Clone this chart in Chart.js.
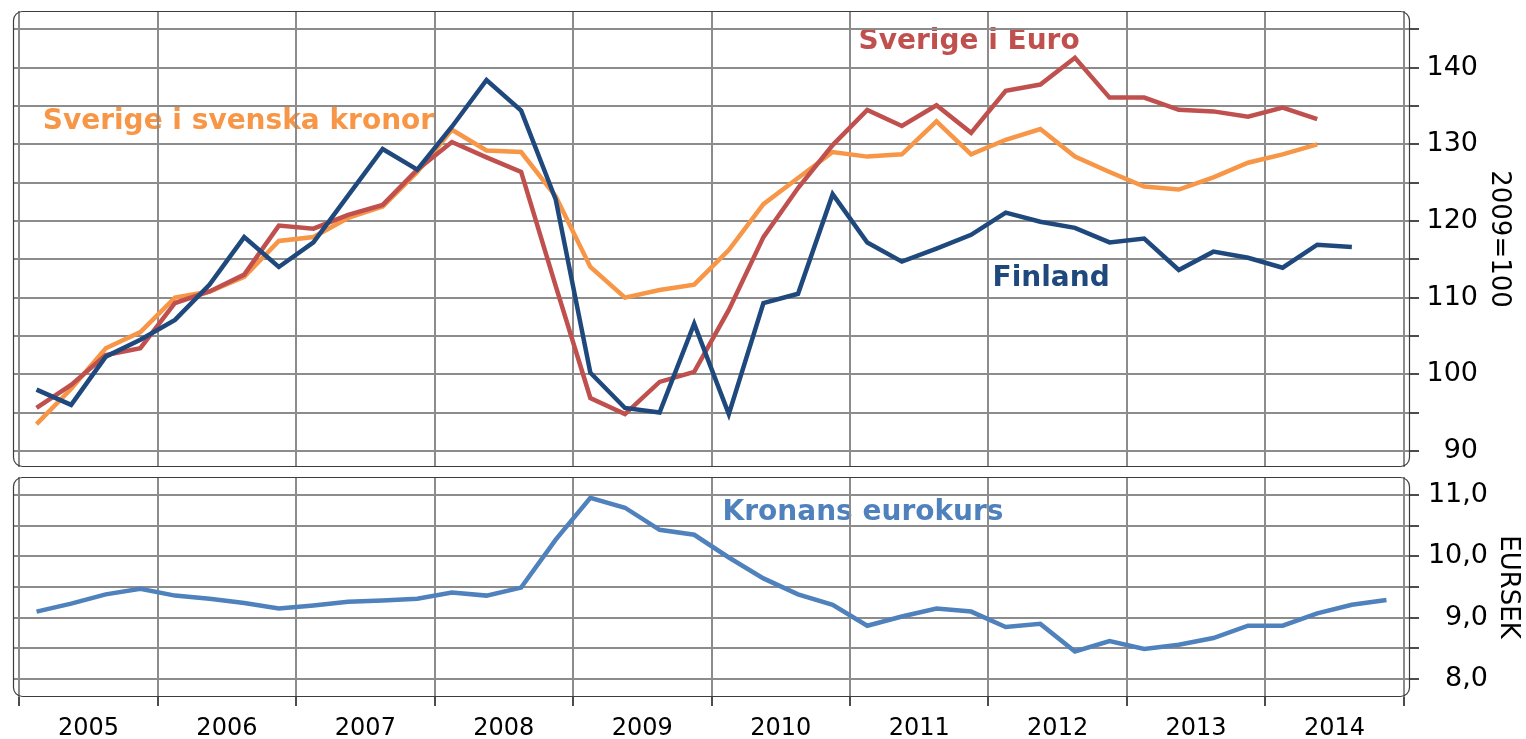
<!DOCTYPE html>
<html><head><meta charset="utf-8">
<script src="https://cdn.jsdelivr.net/npm/chart.js@4"></script>
<style>
html,body{margin:0;padding:0;background:#fff;width:1526px;height:739px;overflow:hidden}
#top{position:absolute;left:0;top:0;width:1526px;height:470px}
#bot{position:absolute;left:0;top:470px;width:1526px;height:269px}
</style></head><body>
<canvas id="top" width="1526" height="470"></canvas>
<canvas id="bot" width="1526" height="269"></canvas>
<script>
// ---- data (quarterly, 2005Q1 ...) ----
const years = ['2005','2006','2007','2008','2009','2010','2011','2012','2013','2014'];
const finland = [98.0, 96.0, 102.3, 104.5, 107.1, 111.7, 117.9, 114.0, 117.2, 123.3, 129.4, 126.7, 132.3, 138.4, 134.4, 122.8, 100.2, 95.6, 95.0, 106.6, 94.8, 109.3, 110.5, 123.5, 117.2, 114.7, 116.4, 118.2, 121.1, 119.9, 119.1, 117.2, 117.7, 113.6, 116.0, 115.2, 113.9, 116.9, 116.6];
const sverigeEuro = [95.6, 98.6, 102.5, 103.4, 109.3, 110.8, 113.0, 119.4, 119.0, 120.8, 122.1, 126.7, 130.3, 128.3, 126.4, 111.5, 96.9, 94.8, 99.0, 100.3, 108.4, 117.9, 124.3, 129.9, 134.5, 132.4, 135.1, 131.5, 137.0, 137.8, 141.3, 136.1, 136.1, 134.5, 134.3, 133.6, 134.8, 133.3];
const sverigeSek = [93.5, 98.1, 103.4, 105.5, 110.0, 110.8, 112.7, 117.4, 117.9, 120.4, 121.9, 126.4, 131.9, 129.2, 129.0, 123.2, 114.0, 110.0, 111.0, 111.7, 116.2, 122.2, 125.6, 129.0, 128.4, 128.7, 133.0, 128.7, 130.6, 132.0, 128.4, 126.4, 124.5, 124.1, 125.7, 127.6, 128.7, 130.0];
const eursek = [9.10, 9.23, 9.38, 9.47, 9.36, 9.31, 9.24, 9.15, 9.20, 9.26, 9.28, 9.31, 9.41, 9.36, 9.49, 10.27, 10.95, 10.79, 10.43, 10.35, 9.98, 9.64, 9.38, 9.21, 8.87, 9.02, 9.15, 9.10, 8.85, 8.90, 8.45, 8.62, 8.49, 8.56, 8.67, 8.87, 8.87, 9.07, 9.21, 9.29];
const topTicks = [90, 95, 100, 105, 110, 115, 120, 125, 130, 135, 140, 145];
const botTicks = [8.0, 8.5, 9.0, 9.5, 10.0, 10.5, 11.0];
const topTitle = '2009=100';
const botTitle = 'EURSEK';

// ---- styling ----
const C_FIN = '#1F497D', C_EUR = '#C0504D', C_SEK = '#F79646', C_KR = '#4F81BD';
const GRID = '#8c8c8c';
const FONT = '"DejaVu Sans", Verdana, sans-serif';
const toXY = arr => arr.map((v, i) => ({x: i + 0.5, y: v}));
const nQ = years.length * 4;

function textPlugin(items) {
  return {
    id: 'txt',
    beforeDraw(chart) {
      const ctx = chart.ctx, xs = chart.scales.x, ys = chart.scales.y;
      ctx.save();
      ctx.font = 'bold 28px ' + FONT;
      ctx.textAlign = 'left';
      ctx.textBaseline = 'alphabetic';
      items.forEach(it => {
        ctx.fillStyle = it.color;
        ctx.fillText(it.text, xs.getPixelForValue(it.x), ys.getPixelForValue(it.y));
      });
      ctx.restore();
    }
  };
}
const framePlugin = {
  id: 'frame',
  afterDraw(chart) {
    const {left, top, right, bottom} = chart.chartArea;
    const ctx = chart.ctx;
    ctx.save();
    ctx.strokeStyle = '#3c3c3c';
    ctx.lineWidth = 1.2;
    ctx.beginPath();
    ctx.roundRect(left + 0.5, top + 0.5, right - left - 1, bottom - top - 1, 9);
    ctx.stroke();
    ctx.restore();
  }
};

function lineDs(data, color, label) {
  return {label, data: toXY(data), borderColor: color, borderWidth: 4.5, pointRadius: 0,
          tension: 0, fill: false, borderJoinStyle: 'miter', borderCapStyle: 'butt'};
}

function yScale(ticksArr, min, max, fmt, title, axisWidth, titlePad) {
  return {
    type: 'linear', position: 'right', min, max,
    afterBuildTicks: s => { s.ticks = ticksArr.map(v => ({value: v})); },
    afterFit: s => { s.width = axisWidth; s.paddingTop = 0; s.paddingBottom = 0; },
    grid: {color: GRID, lineWidth: 2, drawTicks: true, tickLength: 9, tickColor: '#111', tickWidth: 1.5},
    border: {display: false},
    ticks: {callback: fmt, color: '#000', font: {family: FONT, size: 27}, padding: 9, crossAlign: 'far'},
    title: {display: true, text: title, color: '#000', font: {family: FONT, size: 26}, padding: {top: titlePad, bottom: 0}}
  };
}

// ---- top chart ----
new Chart(document.getElementById('top'), {
  type: 'line',
  data: {datasets: [lineDs(finland, C_FIN, 'Finland'), lineDs(sverigeEuro, C_EUR, 'Sverige i Euro'), lineDs(sverigeSek, C_SEK, 'Sverige i svenska kronor')]},
  options: {
    responsive: false, animation: false, devicePixelRatio: 1,
    layout: {padding: {left: 13, top: 11, right: 48, bottom: 3}},
    plugins: {legend: {display: false}, tooltip: {enabled: false}},
    scales: {
      x: {
        type: 'linear', min: -0.18, max: nQ + 0.18,
        afterBuildTicks: s => { s.ticks = years.concat(['']).map((y, k) => ({value: k * 4})); },
        afterFit: s => { s.height = 0; s.paddingLeft = 0; s.paddingRight = 0; },
        grid: {color: GRID, lineWidth: 2, drawTicks: false},
        border: {display: false},
        ticks: {display: false}
      },
      y: yScale(topTicks, 87.9, 147.4, v => (v % 10 === 0 ? String(v) : ''), topTitle, 68, -36.6)
    }
  },
  plugins: [textPlugin([
    {text: 'Sverige i Euro', x: 24.25, y: 142.5, color: C_EUR},
    {text: 'Sverige i svenska kronor', x: 0.68, y: 132.0, color: C_SEK},
    {text: 'Finland', x: 28.12, y: 111.5, color: C_FIN}
  ]), framePlugin]
});

// ---- bottom chart ----
new Chart(document.getElementById('bot'), {
  type: 'line',
  data: {datasets: [lineDs(eursek, C_KR, 'Kronans eurokurs')]},
  options: {
    responsive: false, animation: false, devicePixelRatio: 1,
    layout: {padding: {left: 13, top: 7, right: 38, bottom: 0}},
    plugins: {legend: {display: false}, tooltip: {enabled: false}},
    scales: {
      x: {
        type: 'linear', min: -0.18, max: nQ + 0.18,
        afterBuildTicks: s => { const t = []; for (let k = 0; k <= nQ; k += 2) t.push({value: k}); s.ticks = t; },
        afterFit: s => { s.height = 42; s.paddingLeft = 0; s.paddingRight = 0; },
        grid: {
          color: c => (c.tick && c.tick.value % 4 === 0 ? GRID : 'rgba(0,0,0,0)'),
          tickColor: c => (c.tick && c.tick.value % 4 === 0 ? '#111' : 'rgba(0,0,0,0)'),
          lineWidth: 2, tickWidth: 1.5, drawTicks: true, tickLength: 9
        },
        border: {display: false},
        ticks: {
          autoSkip: false, maxRotation: 0, padding: 8, color: '#000',
          font: {family: FONT, size: 24},
          callback: v => (v % 4 === 2 ? years[(v - 2) / 4] : '')
        }
      },
      y: yScale(botTicks, 7.71, 11.29, v => (Number.isInteger(v) ? v.toFixed(1).replace('.', ',') : ''), botTitle, 78, -35.6)
    }
  },
  plugins: [textPlugin([
    {text: 'Kronans eurokurs', x: 20.32, y: 10.59, color: C_KR}
  ]), framePlugin]
});
</script>
</body></html>
